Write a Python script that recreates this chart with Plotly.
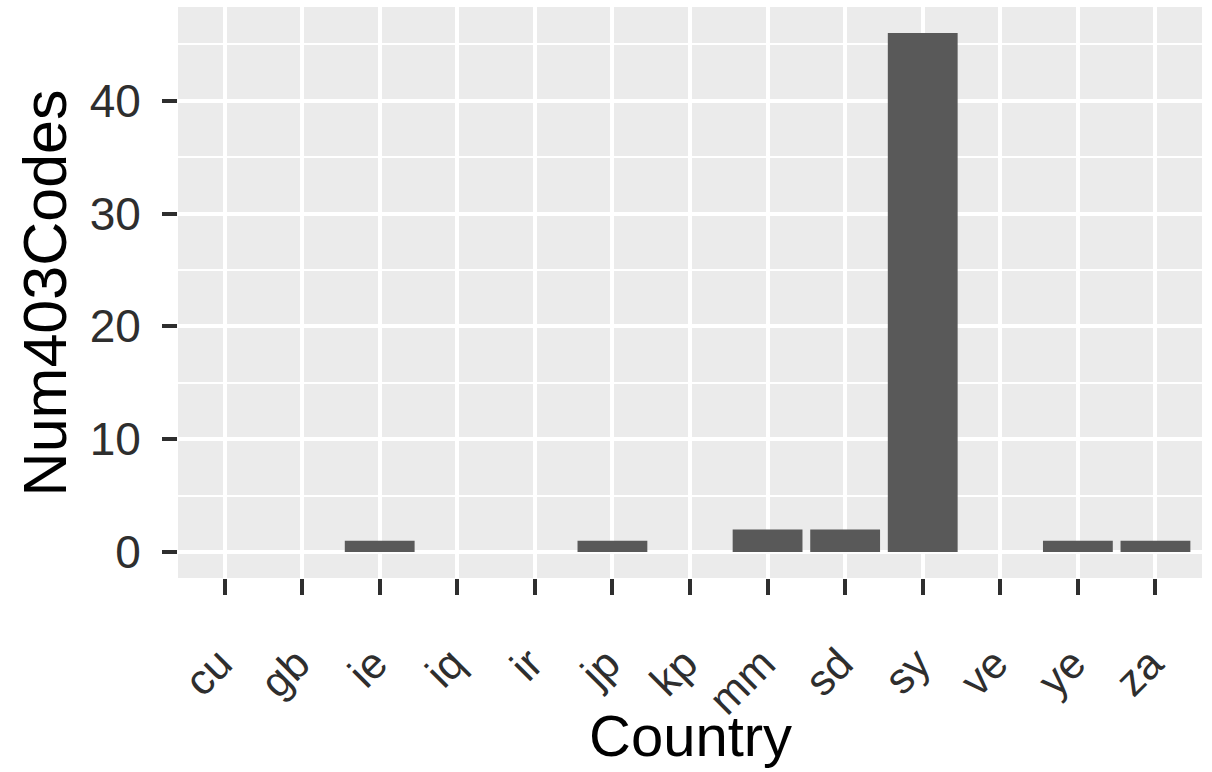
import plotly.graph_objects as go

countries = ["cu", "gb", "ie", "iq", "ir", "jp", "kp", "mm", "sd", "sy", "ve", "ye", "za"]
num403 = [0, 0, 1, 0, 0, 1, 0, 2, 2, 46, 0, 1, 1]

FONT = "Liberation Sans, Arial, Helvetica, sans-serif"
TICKCOL = "#2e2e2e"

fig = go.Figure(
    go.Bar(
        x=countries,
        y=num403,
        marker=dict(color="#595959", line=dict(width=0)),
        width=0.9,
    )
)

fig.update_layout(
    width=1212,
    height=772,
    margin=dict(l=178, r=10, t=7, b=194),
    paper_bgcolor="white",
    plot_bgcolor="#EBEBEB",
    font=dict(family=FONT, color="black"),
    showlegend=False,
    annotations=[
        dict(text="Country", xref="paper", yref="paper", x=0.5, y=-0.275,
             xanchor="center", yanchor="middle", showarrow=False,
             font=dict(size=58, color="black", family=FONT)),
        dict(text="Num403Codes", xref="paper", yref="paper", x=-0.13, y=0.5,
             xanchor="center", yanchor="middle", showarrow=False, textangle=-90,
             font=dict(size=61, color="black", family=FONT)),
    ],
)

fig.update_xaxes(
    type="category",
    range=[-0.6, len(countries) - 0.4],
    showgrid=True,
    gridcolor="white",
    gridwidth=3.5,
    ticks="outside",
    ticklen=16,
    tickwidth=3.5,
    tickcolor=TICKCOL,
    tickangle=-45,
    tickfont=dict(size=43, color=TICKCOL, family=FONT),
    ticklabelstandoff=26,
    ticklabelshift=-5,
    showline=False,
    zeroline=False,
    automargin=False,
)

fig.update_yaxes(
    range=[-2.3, 48.3],
    tickvals=[0, 10, 20, 30, 40],
    ticktext=["0", "10", "20", "30", "40"],
    showgrid=True,
    gridcolor="white",
    gridwidth=3.5,
    minor=dict(tickvals=[5, 15, 25, 35, 45], showgrid=True, gridcolor="white", gridwidth=1.8, ticks=""),
    ticks="outside",
    ticklen=15,
    tickwidth=3.5,
    tickcolor=TICKCOL,
    tickfont=dict(size=46, color=TICKCOL, family=FONT),
    ticklabelstandoff=12,
    zeroline=False,
    showline=False,
    automargin=False,
)

fig.write_html(
    "out.html",
    config={"displayModeBar": False},
    post_script="document.body.style.margin='0';",
)
